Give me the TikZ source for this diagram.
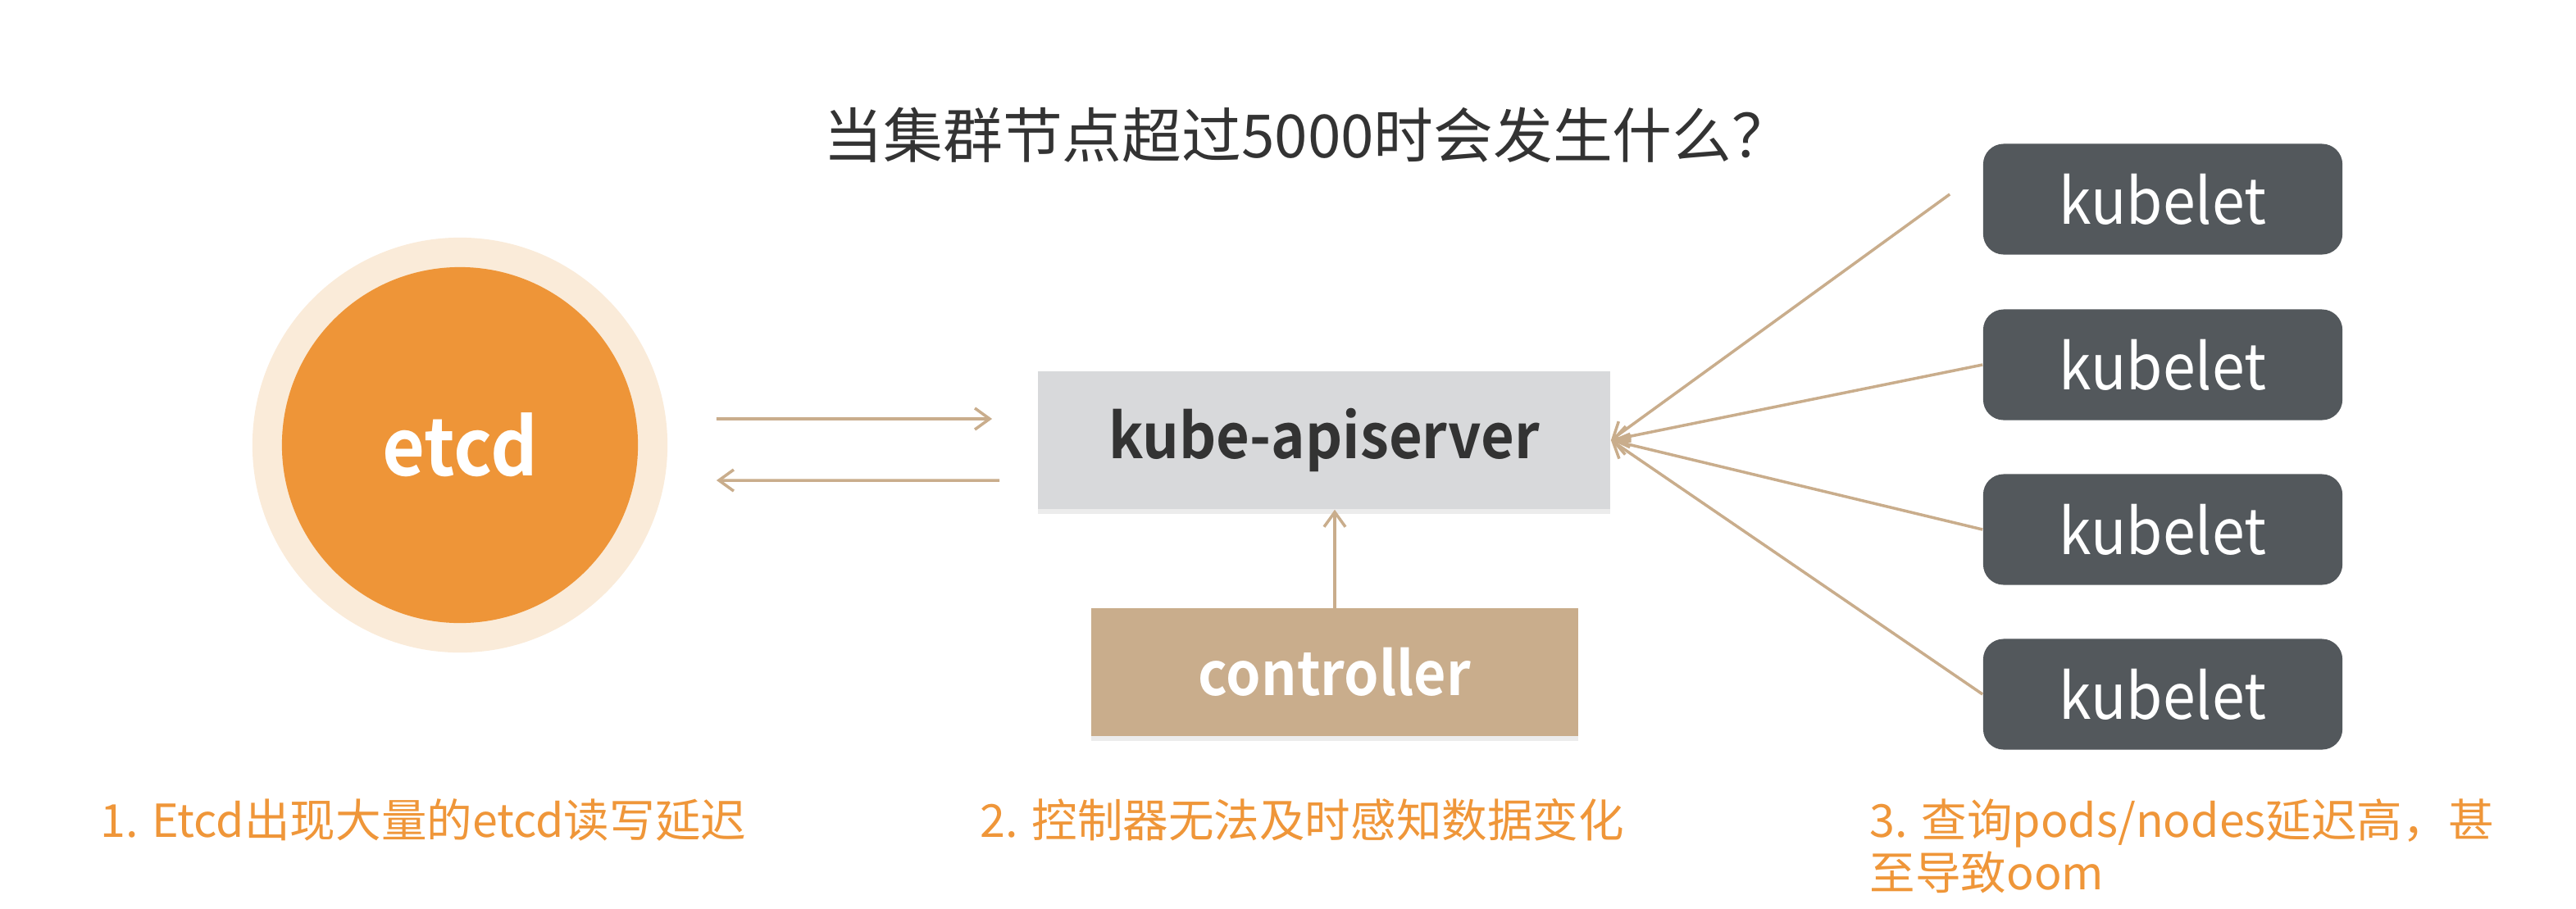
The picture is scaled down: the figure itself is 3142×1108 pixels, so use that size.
\documentclass[tikz,border=0pt]{standalone}
\usepackage{fontspec}
\setmainfont{Noto Sans CJK SC}[BoldFont={Noto Sans CJK SC Bold}]
\newfontfamily\labelfont{Noto Sans CJK SC}[FakeStretch=0.93, BoldFont={Noto Sans CJK SC Bold}]
\usetikzlibrary{arrows.meta,shadows}

\definecolor{halocol}{HTML}{FAEBD9}
\definecolor{etcdcol}{HTML}{EE9538}
\definecolor{apicol}{HTML}{D8D9DB}
\definecolor{linkcol}{HTML}{C9AD8C}
\definecolor{kubecol}{HTML}{53585C}
\definecolor{notecol}{HTML}{EF9639}
\definecolor{titlecol}{HTML}{333333}

\tikzset{
	halo/.style={circle, fill=halocol, minimum size=50.6mm, inner sep=0pt},
	etcdball/.style={circle, fill=etcdcol, minimum size=43.4mm, inner sep=0pt,
		text=white, font=\labelfont\fontsize{27.4pt}{31pt}\selectfont\bfseries},
	apibox/.style={fill=apicol, minimum width=69.8mm, minimum height=16.8mm, inner sep=0pt,
		text=titlecol, font=\labelfont\fontsize{21.5pt}{25pt}\selectfont\bfseries,
		drop shadow={shadow xshift=0mm, shadow yshift=-0.6mm, opacity=0.15}},
	ctrlbox/.style={fill=linkcol, minimum width=59.3mm, minimum height=15.5mm, inner sep=0pt,
		text=white, font=\labelfont\fontsize{20.8pt}{24pt}\selectfont\bfseries,
		drop shadow={shadow xshift=0mm, shadow yshift=-0.6mm, opacity=0.15}},
	kubebox/.style={fill=kubecol, rounded corners=2.5mm, minimum width=43.8mm,
		minimum height=13.5mm, inner sep=0pt, text=white,
		font=\labelfont\fontsize{21.9pt}{25pt}\selectfont},
	link/.style={draw=linkcol, line width=1pt, -{Straight Barb[length=1.8mm,width=2.6mm]}},
	note/.style={text=notecol, inner sep=0pt, anchor=base west, align=left,
		font=\fontsize{15.8pt}{18.2pt}\selectfont},
	titletext/.style={text=titlecol, inner sep=0pt, anchor=base,
		font=\fontsize{20.7pt}{24pt}\selectfont}
}

\begin{document}
\begin{tikzpicture}[x=0.01cm, y=-0.01cm]
	\useasboundingbox (0,0) rectangle (3142,1108);

	%title
	\node[titletext] (title) at (1595,192) {当集群节点超过5000时会发生什么？};

	%etcd
	\node[halo] (etcdhalo) at (561,543) {};
	\node[etcdball] (etcd) at (561,543) {etcd};

	%apiserver and controller
	\node[apibox] (api) at (1615,537) {kube-apiserver};
	\node[ctrlbox] (ctrl) at (1628,820) {controller};

	%kubelets
	\foreach \i/\y in {1/243, 2/445, 3/646, 4/847}
		\node[kubebox] (k\i) at (2638,\y) {kubelet};

	%arrows
	\draw[link] ([xshift=5.9mm, yshift=3.2mm]etcdhalo.east) -- ([xshift=-5.5mm, yshift=2.6mm]api.west);
	\draw[link] ([xshift=-4.6mm, yshift=-4.9mm]api.west) -- ([xshift=5.9mm, yshift=-4.3mm]etcdhalo.east);
	\draw[link] (ctrl.north) -- (ctrl.north |- api.south);
	\draw[link] ([xshift=-4mm, yshift=0.6mm]k1.west) -- (api.east);
	\foreach \i in {2,3,4}
		\draw[link] (k\i.west) -- (api.east);

	%notes
	\node[note] (n1) at (122,1021) {1. Etcd出现大量的etcd读写延迟};
	\node[note] (n2) at (1195,1021) {2. 控制器无法及时感知数据变化};
	\node[note] (n3) at (2280,1085) {3. 查询pods/nodes延迟高，甚\\至导致oom};
\end{tikzpicture}
\end{document}
